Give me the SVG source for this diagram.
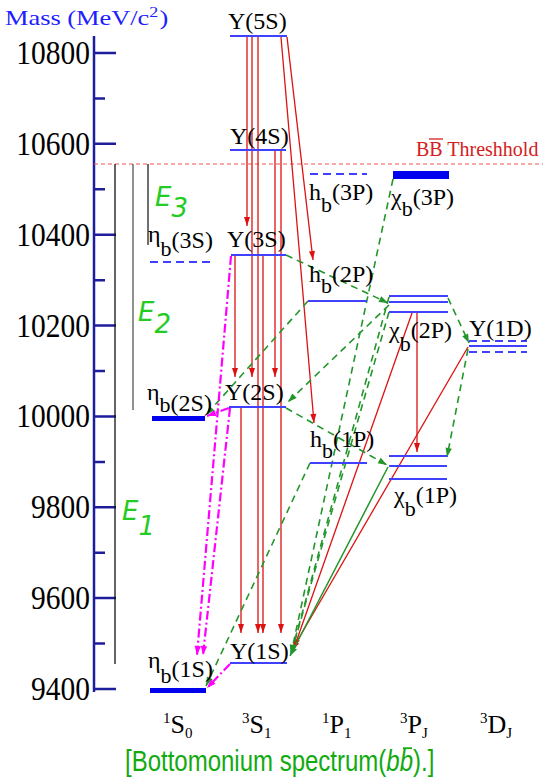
<svg xmlns="http://www.w3.org/2000/svg" width="543" height="777" viewBox="0 0 543 777">
<defs>
<marker id="aR" viewBox="-10 -5 10 10" refX="0" refY="0" markerWidth="10" markerHeight="10" markerUnits="userSpaceOnUse" orient="auto" overflow="visible"><path d="M0,0 L-9,-3 L-9,3 Z" fill="#dd1111"/></marker>
<marker id="aG" viewBox="-10 -5 10 10" refX="0" refY="0" markerWidth="10" markerHeight="10" markerUnits="userSpaceOnUse" orient="auto" overflow="visible"><path d="M0,0 L-9,-3.2 L-9,3.2 Z" fill="#22962a"/></marker>
<marker id="aM" viewBox="-10 -5 10 10" refX="0" refY="0" markerWidth="10" markerHeight="10" markerUnits="userSpaceOnUse" orient="auto" overflow="visible"><path d="M0,0 L-9,-3.2 L-9,3.2 Z" fill="#ff00ff"/></marker>
<style>
.lvl{stroke:#4040ff;stroke-width:2;fill:none}
.dl{stroke:#4040ff;stroke-width:2;stroke-dasharray:8 5;fill:none}
.bar{fill:#0000ee}
.lab{font-family:"Liberation Serif",serif;font-size:24px;fill:#000}
.tick{font-family:"Liberation Serif",serif;font-size:29.5px;text-anchor:end;fill:#000}
.ax{stroke:#1e1e9a;stroke-width:2.5;fill:none}
.r{stroke:#dd1111;stroke-width:1.3;fill:none;marker-end:url(#aR)}
.g{stroke:#22962a;stroke-width:1.6;stroke-dasharray:7 5;fill:none;marker-end:url(#aG)}
.gs{stroke:#22962a;stroke-width:1.5;fill:none;marker-end:url(#aG)}
.m{stroke:#ff00ff;stroke-width:2.2;stroke-dasharray:9 3 2 3;fill:none;marker-end:url(#aM)}
.e{font-family:"DejaVu Sans",sans-serif;font-style:italic;font-size:26px;fill:#22cc22}
.eb{stroke-width:1.3;fill:none}
</style>
</defs>

<!-- axis -->
<g id="axis">
<path class="ax" d="M94,36 V692"/>
<path class="ax" d="M94,53 H116 M94,143.8 H116 M94,234.7 H116 M94,325.6 H116 M94,416.4 H116 M94,507.3 H116 M94,598.1 H116 M94,689 H116"/>
<path class="ax" d="M94,98.4 H105 M94,189.3 H105 M94,280.2 H105 M94,371 H105 M94,461.9 H105 M94,552.7 H105 M94,643.6 H105"/>
<text class="tick" transform="translate(90,64) scale(1,1.15)">10800</text>
<text class="tick" transform="translate(90,155) scale(1,1.15)">10600</text>
<text class="tick" transform="translate(90,246) scale(1,1.15)">10400</text>
<text class="tick" transform="translate(90,337) scale(1,1.15)">10200</text>
<text class="tick" transform="translate(90,427) scale(1,1.15)">10000</text>
<text class="tick" transform="translate(90,518) scale(1,1.15)">9800</text>
<text class="tick" transform="translate(90,609) scale(1,1.15)">9600</text>
<text class="tick" transform="translate(90,700) scale(1,1.15)">9400</text>
<text transform="translate(5,25) scale(1.2,1)" font-family="Liberation Serif, serif" font-size="22" fill="#2020ff">Mass (MeV/c<tspan dy="-8" font-size="15">2</tspan><tspan dy="8" dx="1">)</tspan></text>
</g>

<!-- threshold -->
<g id="threshold">
<path d="M94,164 H543" stroke="#ee5555" stroke-width="1" stroke-dasharray="4 3" fill="none"/>
<text x="416" y="156" font-family="Liberation Serif, serif" font-size="20" fill="#d42020">BB Threshhold</text>
<path d="M429,139 H443" stroke="#d42020" stroke-width="1.3"/>
</g>

<!-- energy bars -->
<g id="ebars">
<path class="eb" d="M115,164 V664" stroke="#111"/>
<path class="eb" d="M133,164 V410" stroke="#555"/>
<path class="eb" d="M148,164 V245" stroke="#222"/>
<text class="e" x="155" y="206">E<tspan dy="11">3</tspan></text>
<text class="e" x="138" y="321">E<tspan dy="12">2</tspan></text>
<text class="e" x="122" y="520">E<tspan dy="15">1</tspan></text>
</g>

<!-- connectors -->
<g id="connectors">
<!-- red hadronic -->
<path class="r" d="M247,37 V226"/>
<path class="r" d="M252,37 V377"/>
<path class="r" d="M258,37 V633"/>
<path class="r" d="M275,151 V377"/>
<path class="r" d="M281,151 V633"/>
<path class="r" d="M235,256 V377"/>
<path class="r" d="M263,256 V633"/>
<path class="r" d="M241,408 V633"/>
<path class="r" d="M287,37 L313,260"/>
<path class="r" d="M281,37 L314,423"/>
<path class="r" d="M412,313 L294,648"/>
<path class="r" d="M468,347 L292,650"/>
<path class="r" d="M417,313 V452"/>
<!-- green E1 -->
<path class="g" d="M286,255 L388,303"/>
<path class="g" d="M448,298 L469,343"/>
<path class="g" d="M389,305 L288,402"/>
<path class="g" d="M308,301 L206,415"/>
<path class="g" d="M286,408 L387,465"/>
<path class="g" d="M468,349 L447,457"/>
<path class="g" d="M310,463 L206,686"/>
<path class="g" d="M393,179 L291,654"/>
<path class="g" d="M389,297 L291,654"/>
<path class="g" d="M389,312 L291,654"/>
<path class="gs" d="M388,467 L290,656"/>
<!-- magenta M1 -->
<path class="m" d="M231,256 L197,655"/>
<path class="m" d="M230,408 L203,655"/>
<path class="m" d="M229,408 L207,416"/>
<path class="m" d="M230,664 L207,688"/>
</g>

<!-- levels -->
<g id="eta1S"><rect class="bar" x="150" y="688" width="56" height="5"/>
<text class="lab" x="148" y="668">η<tspan dy="15" font-size="22">b</tspan><tspan dy="-6">(1S)</tspan></text></g>
<g id="eta2S"><rect class="bar" x="152" y="416" width="53" height="5"/>
<text class="lab" x="147" y="400">η<tspan dy="12" font-size="22">b</tspan><tspan dy="-1">(2S)</tspan></text></g>
<g id="eta3S"><path class="dl" d="M150,262 H210"/>
<text class="lab" x="148" y="242">η<tspan dy="14" font-size="22">b</tspan><tspan dy="-8">(3S)</tspan></text></g>

<g id="ups1S"><path class="lvl" d="M230,663 H287"/><text class="lab" x="230" y="659">Υ(1S)</text></g>
<g id="ups2S"><path class="lvl" d="M229,407 H286"/><text class="lab" x="225" y="400">Υ(2S)</text></g>
<g id="ups3S"><path class="lvl" d="M231,255 H286"/><text class="lab" x="227" y="247">Υ(3S)</text></g>
<g id="ups4S"><path class="lvl" d="M230,150 H286"/><text class="lab" x="230" y="144">Υ(4S)</text></g>
<g id="ups5S"><path class="lvl" d="M230,36 H287"/><text class="lab" x="228" y="29">Υ(5S)</text></g>

<g id="hb1P"><path class="lvl" d="M310,463 H367"/><text class="lab" x="310" y="447">h<tspan dy="11" font-size="22">b</tspan><tspan dy="-11">(1P)</tspan></text></g>
<g id="hb2P"><path class="lvl" d="M308,301 H367"/><text class="lab" x="309" y="282">h<tspan dy="11" font-size="22">b</tspan><tspan dy="-11">(2P)</tspan></text></g>
<g id="hb3P"><path class="dl" d="M310,174 H367"/><text class="lab" x="309" y="200">h<tspan dy="12" font-size="22">b</tspan><tspan dy="-12">(3P)</tspan></text></g>

<g id="chi1P"><path class="lvl" d="M389,456 H447 M389,466 H447 M389,479 H447"/><text class="lab" x="394" y="503">χ<tspan dy="13" font-size="22">b</tspan><tspan dy="-13">(1P)</tspan></text></g>
<g id="chi2P"><path class="lvl" d="M389,296 H448 M389,302 H448 M389,312 H448"/><text class="lab" x="389" y="338">χ<tspan dy="13" font-size="22">b</tspan><tspan dy="-13">(2P)</tspan></text></g>
<g id="chi3P"><rect class="bar" x="393" y="171" width="56" height="8"/><text class="lab" x="391" y="205">χ<tspan dy="11" font-size="22">b</tspan><tspan dy="-11">(3P)</tspan></text></g>

<g id="ups1D"><path class="dl" d="M469,341 H527 M469,352 H527"/><path class="lvl" d="M469,346 H527"/><text class="lab" x="469" y="336">Υ(1D)</text></g>

<!-- column labels -->
<g id="columns" font-family="Liberation Serif, serif" font-size="26">
<text x="163" y="723"><tspan font-size="15">1</tspan><tspan dy="10">S</tspan><tspan dy="5" font-size="15">0</tspan></text>
<text x="242" y="723"><tspan font-size="15">3</tspan><tspan dy="10">S</tspan><tspan dy="5" font-size="15">1</tspan></text>
<text x="322" y="723"><tspan font-size="15">1</tspan><tspan dy="10">P</tspan><tspan dy="5" font-size="15">1</tspan></text>
<text x="400" y="723"><tspan font-size="15">3</tspan><tspan dy="10">P</tspan><tspan dy="5" font-size="15">J</tspan></text>
<text x="480" y="723"><tspan font-size="15">3</tspan><tspan dy="10">D</tspan><tspan dy="5" font-size="15">J</tspan></text>
</g>

<g id="caption" transform="translate(125,771) scale(1,1.2)">
<text x="0" y="0" font-family="Liberation Sans, sans-serif" font-size="24" fill="#11aa11">[Bottomonium spectrum(<tspan font-style="italic">bb</tspan>).]</text>
<path d="M278,-19 H287" stroke="#11aa11" stroke-width="1.5"/>
</g>
</svg>
